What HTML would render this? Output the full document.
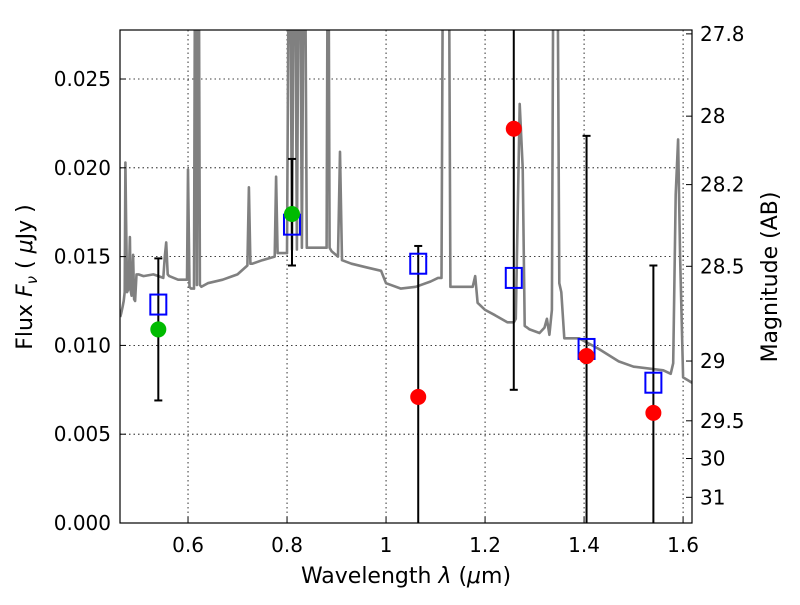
<!DOCTYPE html>
<html><head><meta charset="utf-8"><style>
body{margin:0;background:#fff}
svg text{font-family:"DejaVu Sans","Liberation Sans",sans-serif;fill:#000}
</style></head><body>
<svg id="chart" width="800" height="600" viewBox="0 0 800 600" xmlns="http://www.w3.org/2000/svg">
<defs><clipPath id="clip"><rect x="120" y="30" width="572" height="493"/></clipPath></defs>
<rect width="800" height="600" fill="#fff"/>
<g id="grid"></g>
<g id="spec" clip-path="url(#clip)"></g>
<g id="marks" clip-path="url(#clip)"></g>
<rect x="120" y="30" width="572" height="493" fill="none" stroke="#000" stroke-width="1.2"/>
<g id="axes"></g>
<text x="406" y="583" font-size="22" text-anchor="middle">Wavelength  <tspan font-style="italic">λ</tspan> (<tspan font-style="italic">μ</tspan>m)</text>
<text transform="translate(32,277) rotate(-90)" font-size="22" text-anchor="middle">Flux  <tspan font-style="italic">F<tspan font-size="15" dy="5">ν</tspan></tspan><tspan dy="-5">  ( </tspan><tspan font-style="italic">μ</tspan>Jy )</text>
<text transform="translate(777,277) rotate(-90)" font-size="22" text-anchor="middle">Magnitude (AB)</text>
</svg>
<script>
const xTicks=[0.6,0.8,1.0,1.2,1.4,1.6];
const xTickLabels=["0.6","0.8","1","1.2","1.4","1.6"];
const yTicks=[0,0.005,0.010,0.015,0.020,0.025];
const yTickLabels=["0.000","0.005","0.010","0.015","0.020","0.025"];
const magTicks=[27.8,28,28.2,28.5,29,29.5,30,31];
const magTickLabels=["27.8","28","28.2","28.5","29","29.5","30","31"];
const specWave=[0.463,0.465,0.468,0.470,0.472,0.4735,0.475,0.477,0.480,0.4825,0.484,0.486,0.489,0.491,0.493,0.496,0.500,0.510,0.530,0.550,0.553,0.556,0.559,0.562,0.580,0.598,0.600,0.603,0.606,0.612,0.615,0.618,0.621,0.624,0.627,0.640,0.670,0.690,0.700,0.720,0.723,0.726,0.730,0.750,0.775,0.778,0.781,0.785,0.800,0.805,0.810,0.815,0.820,0.825,0.830,0.835,0.840,0.860,0.880,0.883,0.886,0.890,0.903,0.907,0.911,0.930,0.960,0.990,1.000,1.030,1.060,1.090,1.105,1.112,1.116,1.126,1.130,1.150,1.175,1.180,1.185,1.200,1.220,1.245,1.258,1.262,1.270,1.276,1.280,1.285,1.290,1.310,1.320,1.325,1.330,1.335,1.339,1.345,1.350,1.354,1.360,1.390,1.430,1.470,1.500,1.560,1.575,1.580,1.585,1.590,1.594,1.600,1.618];
const specFlux=[0.0116,0.0118,0.0122,0.0125,0.0130,0.0203,0.0170,0.0130,0.0132,0.0161,0.0131,0.0128,0.0151,0.0126,0.0125,0.0140,0.0140,0.0139,0.0140,0.0138,0.0150,0.0158,0.0140,0.0139,0.0137,0.0137,0.0199,0.0133,0.0132,0.0132,0.040,0.0134,0.040,0.0134,0.0133,0.0135,0.0137,0.0139,0.0140,0.0145,0.0189,0.0146,0.0146,0.0148,0.0150,0.0195,0.0152,0.0152,0.0152,0.040,0.0154,0.040,0.0154,0.040,0.0155,0.040,0.0155,0.0155,0.0155,0.040,0.0155,0.0153,0.0150,0.0209,0.0148,0.0146,0.0144,0.0142,0.0135,0.0132,0.0133,0.0136,0.0138,0.0138,0.040,0.040,0.0133,0.0133,0.0133,0.0139,0.0124,0.0120,0.0117,0.0113,0.0113,0.0115,0.0236,0.0200,0.0111,0.0110,0.0109,0.0107,0.0110,0.0115,0.0106,0.0120,0.040,0.040,0.0135,0.0130,0.0104,0.0104,0.0098,0.0091,0.0088,0.0086,0.0084,0.0090,0.0185,0.0216,0.0150,0.0082,0.0079,0.0078];
const photWave=[0.54,0.81,1.065,1.258,1.405,1.54];
const modelFlux=[0.0123,0.0168,0.0146,0.0138,0.0098,0.0079];
const obsFlux=[0.0109,0.0174,0.0071,0.0222,0.0094,0.0062];
const obsColor=["#00bb00","#00bb00","#ff0000","#ff0000","#ff0000","#ff0000"];
const errLow=[0.0069,0.0145,-0.001,0.0075,-0.001,-0.001];
const errHigh=[0.0149,0.0205,0.0156,0.035,0.0218,0.0145];

const X0=120,X1=692,Y0=523,Y1=30;
const xmin=0.4626,xmax=1.618,ymin=0,ymax=0.02776;
const sx=v=>X0+(v-xmin)/(xmax-xmin)*(X1-X0);
const sy=v=>Y0-(v-ymin)/(ymax-ymin)*(Y0-Y1);
const magToFlux=m=>Math.pow(10,(23.9-m)/2.5);
const NS="http://www.w3.org/2000/svg";
function mk(tag,attrs,parent){const e=document.createElementNS(NS,tag);for(const k in attrs)e.setAttribute(k,attrs[k]);parent.appendChild(e);return e;}
const grid=document.getElementById('grid'),axes=document.getElementById('axes'),spec=document.getElementById('spec'),marks=document.getElementById('marks');

xTicks.forEach((t,i)=>{const x=sx(t);
 const g=mk('line',{x1:x,x2:x,y1:Y1,y2:Y0,stroke:'#000','stroke-width':0.8,'stroke-dasharray':'1.5,3'},grid);
 
 const tk=mk('line',{x1:x,x2:x,y1:Y0,y2:Y0-6,stroke:'#000'},axes);
 
 const tx=mk('text',{x:x,y:552,'font-size':20,'text-anchor':'middle'},axes);tx.textContent=xTickLabels[i];
 });
yTicks.forEach((t,i)=>{const y=sy(t);
 const g=mk('line',{x1:X0,x2:X1,y1:y,y2:y,stroke:'#000','stroke-width':0.8,'stroke-dasharray':'1.5,3'},grid);
 
 const tk=mk('line',{x1:X0,x2:X0+6,y1:y,y2:y,stroke:'#000'},axes);
 
 const tx=mk('text',{x:111,y:y+7,'font-size':20,'text-anchor':'end'},axes);tx.textContent=yTickLabels[i];
 });
magTicks.forEach((m,i)=>{const y=sy(magToFlux(m));
 const tk=mk('line',{x1:X1,x2:X1-6,y1:y,y2:y,stroke:'#000'},axes);
 
 const tx=mk('text',{x:700,y:y+7,'font-size':20},axes);tx.textContent=magTickLabels[i];
 });

const pts=specWave.map((w,i)=>sx(w).toFixed(1)+','+sy(specFlux[i]).toFixed(1)).join(' ');
const pl=mk('polyline',{points:pts,fill:'none',stroke:'#808080','stroke-width':2.6,'stroke-linejoin':'round'},spec);


photWave.forEach((w,i)=>{const x=sx(w);
 const e=mk('line',{x1:x,x2:x,y1:sy(errLow[i]),y2:sy(errHigh[i]),stroke:'#000','stroke-width':2},marks);
 
 [errLow[i],errHigh[i]].forEach(v=>{const c=mk('line',{x1:x-4,x2:x+4,y1:sy(v),y2:sy(v),stroke:'#000','stroke-width':2},marks);
  });
 const r=mk('rect',{x:x-8,y:sy(modelFlux[i])-10,width:16,height:20,fill:'none',stroke:'#0000ff','stroke-width':2},marks);
 
 const c=mk('circle',{cx:x,cy:sy(obsFlux[i]),r:8,fill:obsColor[i]},marks);
 });
</script>
</body></html>
